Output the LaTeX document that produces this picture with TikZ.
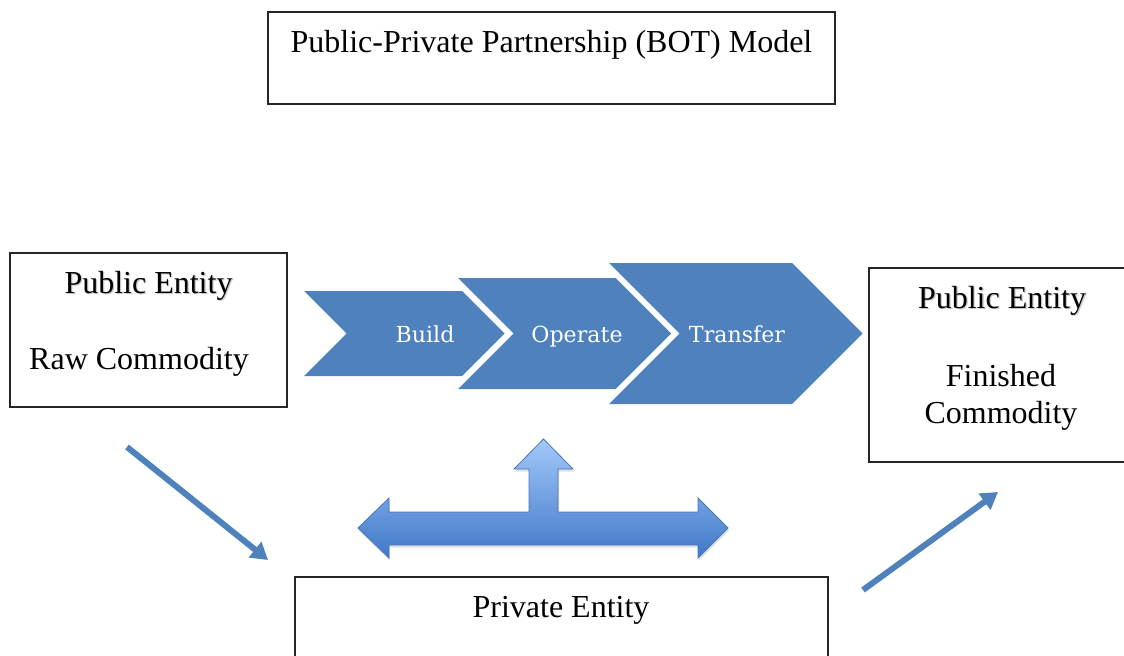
\documentclass[tikz,border=0pt]{standalone}
\usepackage{fontspec}
\setmainfont{Liberation Serif}
\newfontfamily\chevfont{DejaVu Serif}
\usetikzlibrary{arrows.meta,fit,shadows}
\definecolor{accent}{RGB}{79,129,189}
\definecolor{tlight}{RGB}{162,200,250}
\definecolor{tdark}{RGB}{64,120,200}
\definecolor{tedge}{RGB}{72,118,186}

\begin{document}
\begin{tikzpicture}[x=0.75pt,y=-0.75pt,
  box/.style={draw=black!85, line width=0.8pt, inner sep=0pt},
  label/.style={font=\fontsize{24}{28}\selectfont, anchor=base, inner sep=0pt},
  softshadow/.style={label, text=black!22},
  chev/.style={fill=accent, draw=none},
  chevtext/.style={text=white, font=\chevfont\fontsize{16.6}{19}\selectfont, anchor=base, inner sep=0pt},
  diag/.style={draw=accent, line width=4.5pt, -{Triangle[length=12.5pt,width=14.5pt]}},
  tarrow/.style={top color=tlight, bottom color=tdark, draw=tedge, line width=0.6pt,
    drop shadow={opacity=0.25, shadow xshift=0.8pt, shadow yshift=-2pt}},
]
\useasboundingbox (0,0) rectangle (1124,656);

% frames
\node[box, fit={(268,12) (835,104)}] (title) {};
\node[box, fit={(10,253) (287,407)}] (pubraw) {};
\node[box, fit={(869,268) (1130,462)}] (pubfin) {};
\node[box, fit={(295,577) (828,665)}] (priv) {};

% frame texts
\node[label] (titletext) at (551.5,52.5) {Public-Private Partnership (BOT) Model};
\node[softshadow] (pub1s) at (149.8,294.7) {Public Entity};
\node[label] (pub1) at (148.5,293.5) {Public Entity};
\node[label] (raw) at (139,369.5) {Raw Commodity};
\node[softshadow] (pub2s) at (1003.3,309.2) {Public Entity};
\node[label] (pub2) at (1002,308) {Public Entity};
\node[label] (fin1) at (1001,386) {Finished};
\node[label] (fin2) at (1001,423) {Commodity};
\node[label] (privtext) at (561,617.5) {Private Entity};

% process chevrons
\fill[chev] (304,291) -- (462,291) -- (504.5,333.5) -- (462,376) -- (304,376) -- (346.5,333.5) -- cycle;
\fill[chev] (458,278) -- (615.5,278) -- (671,333.5) -- (615.5,389) -- (458,389) -- (513.5,333.5) -- cycle;
\fill[chev] (609,263) -- (792,263) -- (862.5,333.5) -- (792,404) -- (609,404) -- (679.5,333.5) -- cycle;
\node[chevtext] (build) at (425,342) {Build};
\node[chevtext] (operate) at (577,342) {Operate};
\node[chevtext] (transfer) at (737,342) {Transfer};

% three-way block arrow
\path[tarrow] (358,528) -- (389,498) -- (389,512) -- (529,512) -- (529,469) -- (514,469)
  -- (543.5,439) -- (573,469) -- (558,469) -- (558,512) -- (698,512) -- (698,498)
  -- (728,528) -- (698,558) -- (698,545) -- (389,545) -- (389,558) -- cycle;

% flow arrows
\coordinate (inA) at (127,447);
\coordinate (inB) at (268,560);
\coordinate (outA) at (863,590);
\coordinate (outB) at (998,492);
\draw[diag] (inA) -- (inB);
\draw[diag] (outA) -- (outB);
\end{tikzpicture}
\end{document}
